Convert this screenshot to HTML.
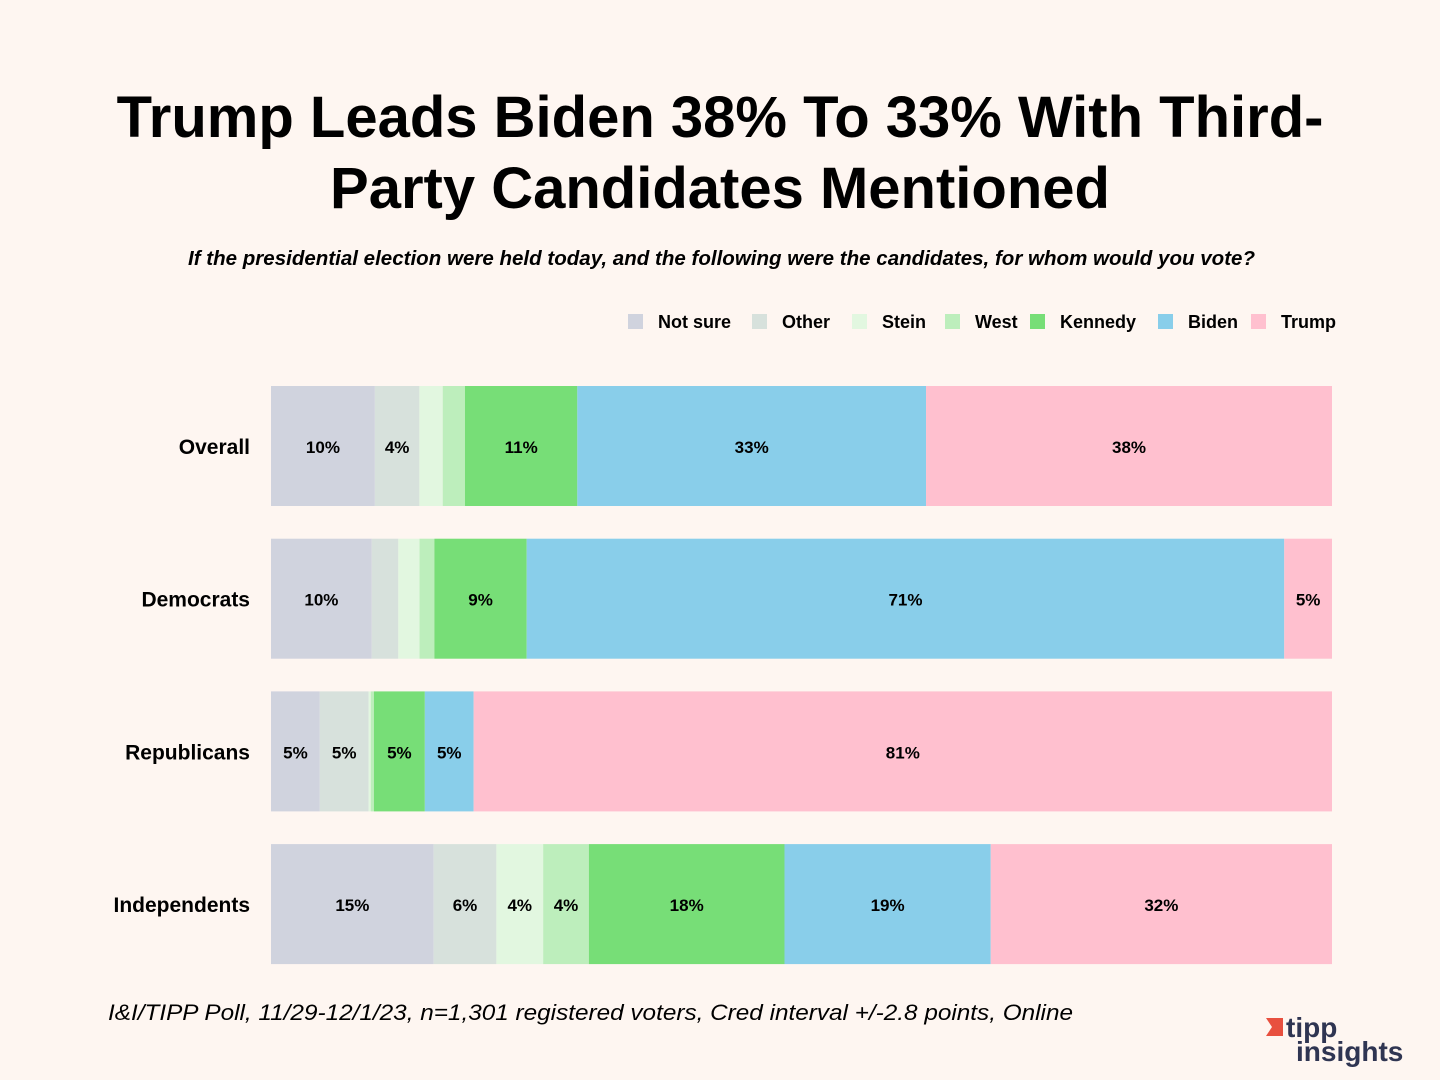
<!DOCTYPE html>
<html><head><meta charset="utf-8"><style>
body{margin:0;background:#fef6f1;}
svg{display:block;font-family:"Liberation Sans",sans-serif;}
</style></head><body>
<svg id="c" width="1440" height="1080" viewBox="0 0 1440 1080">
<rect width="1440" height="1080" fill="#fef6f1"/>
<text x="720" y="137" text-anchor="middle" font-size="58" font-weight="bold" fill="#000">Trump Leads Biden 38% To 33% With Third-</text>
<text x="720" y="208" text-anchor="middle" font-size="58" font-weight="bold" fill="#000">Party Candidates Mentioned</text>
<text x="188" y="265" textLength="1067" lengthAdjust="spacingAndGlyphs" font-size="20" font-style="italic" font-weight="bold" fill="#000">If the presidential election were held today, and the following were the candidates, for whom would you vote?</text>
<text x="108" y="1020" textLength="965" lengthAdjust="spacingAndGlyphs" font-size="22" font-style="italic" fill="#000">I&amp;I/TIPP Poll, 11/29-12/1/23, n=1,301 registered voters, Cred interval +/-2.8 points, Online</text>
<g>
<path d="M1266 1018 L1283 1018 L1283 1036 L1266 1036 L1272 1027 Z" fill="#e8503f"/>
<text x="1286" y="1037" font-size="28" font-weight="bold" fill="#2f3552">tipp</text>
<text x="1296" y="1061" font-size="28" font-weight="bold" fill="#2f3552">insights</text>
</g>
<g id="legend"></g>
<g id="bars"></g>
</svg>
<script>
const categories = ["Overall","Democrats","Republicans","Independents"];
const series = ["Not sure","Other","Stein","West","Kennedy","Biden","Trump"];
const notSure = [9.8, 9.5, 4.6, 15.3];
const other = [4.2, 2.5, 4.6, 5.9];
const stein = [2.2, 2.0, 0.2, 4.4];
const west = [2.1, 1.4, 0.3, 4.3];
const kennedy = [10.6, 8.7, 4.8, 18.4];
const biden = [32.9, 71.4, 4.6, 19.4];
const trump = [38.3, 4.5, 80.9, 32.1];
const seriesValues = [notSure, other, stein, west, kennedy, biden, trump];
const colors = ["#d0d3de","#d7e1dc","#e2f7e0","#bdeebc","#77de77","#89ceea","#ffc0cf"];
const NS = "http://www.w3.org/2000/svg";
const X0 = 271, X1 = 1332, Y0 = 386, STEP = 152.7, BH = 120;
function el(t, a, p){const e=document.createElementNS(NS,t);for(const k in a)e.setAttribute(k,a[k]);p.appendChild(e);return e;}
const bars = document.getElementById('bars');
categories.forEach((cat, i) => {
  const y = Y0 + i*STEP;
  let total = 0; seriesValues.forEach(s => total += s[i]);
  const xs = v => X0 + v/total*(X1-X0);
  const lab = el('text',{x:250,y:y+BH/2+8,'text-anchor':'end','font-size':21,'font-weight':'bold',fill:'#000'},bars);
  lab.textContent = cat;
  
  
  let acc = 0;
  seriesValues.forEach((s, j) => {
    const v = s[i];
    const xa = xs(acc), xb = xs(acc+v);
    const r = el('rect',{x:xa,y:y,width:Math.max(0,xb-xa),height:BH,fill:colors[j]},bars);
    
    
    if (v >= 3) {
      const t = el('text',{x:(xa+xb)/2,y:y+BH/2+7,'text-anchor':'middle','font-size':17,'font-weight':'bold',fill:'#000'},bars);
      t.textContent = Math.round(v) + '%';
      
      
    }
    acc += v;
  });
});
const legend = document.getElementById('legend');
const lx = [628, 752, 852, 945, 1030, 1158, 1251];
series.forEach((s, j) => {
  const r = el('rect',{x:lx[j],y:314,width:15,height:15,fill:colors[j]},legend);
  
  
  const t = el('text',{x:lx[j]+30,y:328,'font-size':18,'font-weight':'bold',fill:'#000'},legend);
  t.textContent = s;
  
  
});
</script>
</body></html>
